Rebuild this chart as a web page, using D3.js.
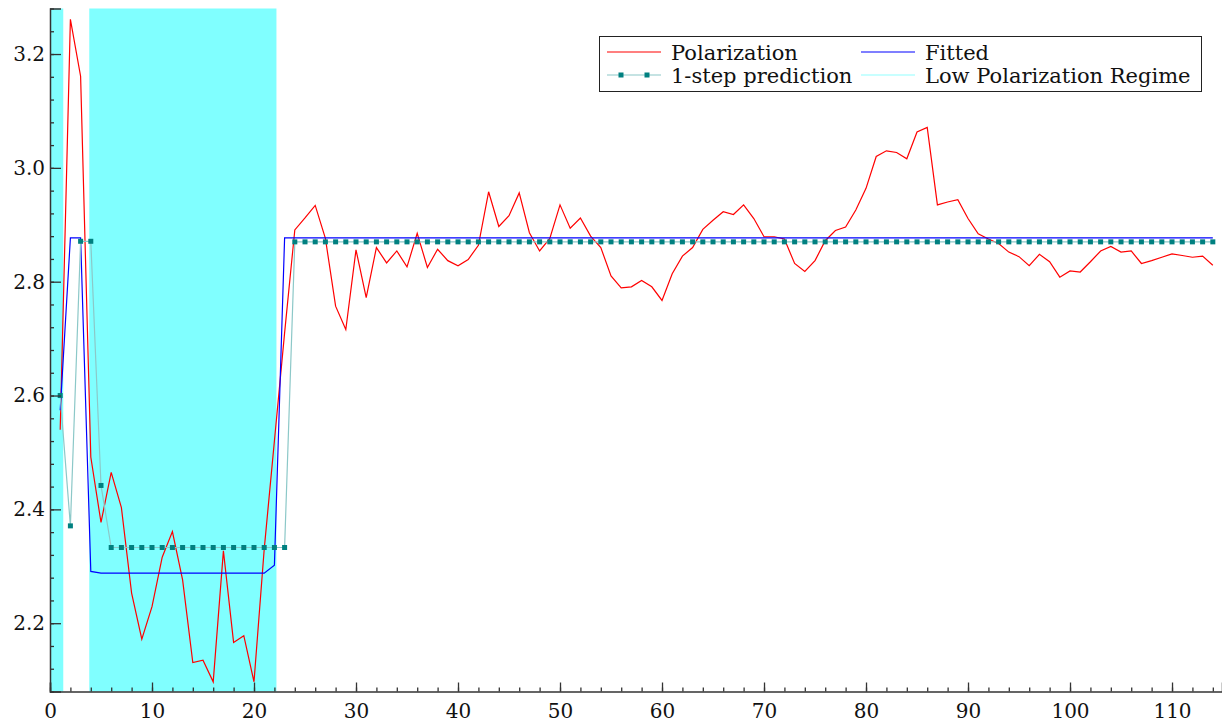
<!DOCTYPE html>
<html><head><meta charset="utf-8">
<script src="https://cdn.jsdelivr.net/npm/d3@7"></script>
<style>
html,body{margin:0;padding:0;background:#fff;}
svg{display:block;}
svg text{font-family:"DejaVu Serif","Liberation Serif",serif;}
</style></head>
<body>
<svg id="chart" width="1222" height="723"></svg>
<script>
// ---- data ----
const polarization = [2.540,3.261,3.161,2.492,2.377,2.465,2.403,2.253,2.172,2.229,
2.316,2.361,2.276,2.131,2.135,2.097,2.327,2.166,2.178,2.097,
2.330,2.520,2.710,2.891,2.912,2.934,2.876,2.757,2.716,2.856,
2.772,2.860,2.833,2.854,2.826,2.885,2.825,2.857,2.837,2.828,
2.839,2.864,2.958,2.897,2.916,2.956,2.886,2.854,2.876,2.935,
2.894,2.912,2.880,2.860,2.810,2.789,2.791,2.802,2.791,2.767,
2.814,2.845,2.860,2.892,2.908,2.923,2.918,2.935,2.911,2.879,
2.879,2.875,2.832,2.818,2.837,2.872,2.890,2.896,2.926,2.964,
3.020,3.030,3.027,3.016,3.063,3.071,2.935,2.940,2.944,2.911,
2.884,2.875,2.867,2.852,2.844,2.828,2.848,2.835,2.808,2.819,
2.817,2.835,2.854,2.862,2.852,2.854,2.832,2.837,2.843,2.849,
2.846,2.843,2.845,2.829];
const fitted = [2.574,2.877,2.877,2.291,2.288,2.288,2.288,2.288,2.288,2.288,
2.288,2.288,2.288,2.288,2.288,2.288,2.288,2.288,2.288,2.288,
2.288,2.302,2.877,2.877,2.877,2.877,2.877,2.877,2.877,2.877,
2.877,2.877,2.877,2.877,2.877,2.877,2.877,2.877,2.877,2.877,
2.877,2.877,2.877,2.877,2.877,2.877,2.877,2.877,2.877,2.877,
2.877,2.877,2.877,2.877,2.877,2.877,2.877,2.877,2.877,2.877,
2.877,2.877,2.877,2.877,2.877,2.877,2.877,2.877,2.877,2.877,
2.877,2.877,2.877,2.877,2.877,2.877,2.877,2.877,2.877,2.877,
2.877,2.877,2.877,2.877,2.877,2.877,2.877,2.877,2.877,2.877,
2.877,2.877,2.877,2.877,2.877,2.877,2.877,2.877,2.877,2.877,
2.877,2.877,2.877,2.877,2.877,2.877,2.877,2.877,2.877,2.877,
2.877,2.877,2.877,2.877];
const prediction = [2.600,2.371,2.871,2.871,2.442,2.333,2.333,2.333,2.333,2.333,
2.333,2.333,2.333,2.333,2.333,2.333,2.333,2.333,2.333,2.333,
2.333,2.333,2.333,2.870,2.870,2.870,2.870,2.870,2.870,2.870,
2.870,2.870,2.870,2.870,2.870,2.870,2.870,2.870,2.870,2.870,
2.870,2.870,2.870,2.870,2.870,2.870,2.870,2.870,2.870,2.870,
2.870,2.870,2.870,2.870,2.870,2.870,2.870,2.870,2.870,2.870,
2.870,2.870,2.870,2.870,2.870,2.870,2.870,2.870,2.870,2.870,
2.870,2.870,2.870,2.870,2.870,2.870,2.870,2.870,2.870,2.870,
2.870,2.870,2.870,2.870,2.870,2.870,2.870,2.870,2.870,2.870,
2.870,2.870,2.870,2.870,2.870,2.870,2.870,2.870,2.870,2.870,
2.870,2.870,2.870,2.870,2.870,2.870,2.870,2.870,2.870,2.870,
2.870,2.870,2.870,2.870];
const regimes = [[0, 1.3], [3.85, 22.2]];
const xTicks = [0,10,20,30,40,50,60,70,80,90,100,110];
const yTicks = [2.2,2.4,2.6,2.8,3.0,3.2];
const legendLabels = ["Polarization","Fitted","1-step prediction","Low Polarization Regime"];

// ---- chart ----
const svg = d3.select("#chart");
const x = d3.scaleLinear().domain([0, 114.9]).range([50, 1222]);
const y = d3.scaleLinear().domain([2.08, 3.28]).range([691.5, 8.5]);
const idx = d => d.map((v,i)=>({x:i+1, y:v}));

svg.append("g").selectAll("rect").data(regimes).join("rect")
  .attr("x", d=>x(d[0])).attr("width", d=>x(d[1])-x(d[0]))
  .attr("y", y(3.28)).attr("height", y(2.08)-y(3.28))
  .attr("fill", "#80ffff");

const line = d3.line().x(d=>x(d.x)).y(d=>y(d.y));
svg.append("path").datum(idx(polarization)).attr("d", line)
  .attr("fill","none").attr("stroke","#ff0000").attr("stroke-width",1.2);
svg.append("path").datum(idx(fitted)).attr("d", line)
  .attr("fill","none").attr("stroke","#0000ff").attr("stroke-width",1.2);
svg.append("path").datum(idx(prediction)).attr("d", line)
  .attr("fill","none").attr("stroke","#8cc8c8").attr("stroke-width",1.2);
svg.append("g").selectAll("rect").data(idx(prediction)).join("rect")
  .attr("x", d=>x(d.x)-2.5).attr("y", d=>y(d.y)-2.5)
  .attr("width",5).attr("height",5).attr("fill","#008080");

// axes
const fontSize = 20;
const xMinor = d3.range(0, 115, 2);
const yMinor = d3.range(0, 31).map(i => +(2.08 + i*0.04).toFixed(2));
const gxm = svg.append("g").attr("transform",`translate(0,${y(2.08)})`)
  .call(d3.axisBottom(x).tickValues(xMinor).tickSize(-4).tickFormat(""));
gxm.select(".domain").remove();
const gx = svg.append("g").attr("transform",`translate(0,${y(2.08)})`)
  .call(d3.axisBottom(x).tickValues(xTicks).tickSize(-9).tickPadding(12).tickFormat(d3.format("d")));
const gym = svg.append("g").attr("transform",`translate(${x(0)},0)`)
  .call(d3.axisLeft(y).tickValues(yMinor).tickSize(-4).tickFormat(""));
gym.select(".domain").remove();
const gy = svg.append("g").attr("transform",`translate(${x(0)},0)`)
  .call(d3.axisLeft(y).tickValues(yTicks).tickSize(-11).tickPadding(5).tickFormat(d3.format(".1f")));
[gx, gy].forEach(g => {
  g.attr("font-size", fontSize);
  g.select(".domain").attr("stroke","#333").attr("stroke-width",1.5);
  g.selectAll("text").attr("fill","#111");
});
svg.selectAll(".tick line").attr("stroke","#333").attr("stroke-width",1.3);

// legend
const lg = svg.append("g").attr("font-size", 21);
lg.append("rect").attr("x",599.5).attr("y",36.5).attr("width",602).attr("height",55)
  .attr("fill","#fff").attr("stroke","#222").attr("stroke-width",1);
const items = [
  {label:legendLabels[0], col:0, row:0, color:"#ff0000", w:1.2},
  {label:legendLabels[1], col:1, row:0, color:"#0000ff", w:1.2},
  {label:legendLabels[2], col:0, row:1, color:"#8cc8c8", w:1.2, marker:true},
  {label:legendLabels[3], col:1, row:1, color:"#c8ffff", w:2}
];
items.forEach(it => {
  const x0 = 607 + it.col*254, yy = 52 + it.row*23;
  lg.append("line").attr("x1",x0).attr("x2",x0+54).attr("y1",yy).attr("y2",yy)
    .attr("stroke",it.color).attr("stroke-width",it.w);
  if (it.marker) {
    [x0+14, x0+40].forEach(mx => lg.append("rect").attr("x",mx-2.5).attr("y",yy-2.5)
      .attr("width",5).attr("height",5).attr("fill","#008080"));
  }
  lg.append("text").attr("x",x0+64).attr("y",yy+8).attr("fill","#111")
    .text(it.label);
});
</script>
</body></html>
